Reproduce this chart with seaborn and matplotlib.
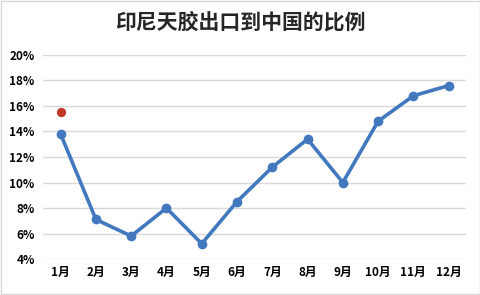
import matplotlib
matplotlib.use("Agg")
import matplotlib.pyplot as plt
import seaborn as sns
import pandas as pd
from matplotlib.ticker import PercentFormatter
from matplotlib.patches import Rectangle

months = ["1月", "2月", "3月", "4月", "5月", "6月", "7月", "8月", "9月", "10月", "11月", "12月"]
ratio = [0.138, 0.071, 0.058, 0.080, 0.052, 0.085, 0.112, 0.134, 0.100, 0.148, 0.168, 0.176]
extra_month = ["1月"]
extra_ratio = [0.155]
title = "印尼天胶出口到中国的比例"

sns.set_theme(style="white")
plt.rcParams['font.family'] = ['Noto Sans CJK SC', 'DejaVu Sans']

fig = plt.figure(figsize=(4.81, 2.95), dpi=100)
ax = fig.add_axes([0.0894, 0.122, 0.8800, 0.6916])

df = pd.DataFrame({"month": months, "ratio": ratio})
df["x"] = range(len(months))
sns.lineplot(data=df, x="x", y="ratio", ax=ax, color="#4178BE", linewidth=2.6,
             marker="o", markersize=7, markeredgewidth=0, zorder=3)
ex = pd.DataFrame({"x": [months.index(m) for m in extra_month], "ratio": extra_ratio})
sns.scatterplot(data=ex, x="x", y="ratio", ax=ax, color="#C0392B", s=45, linewidth=0, zorder=4)

ax.set_xlim(-0.5, len(months) - 0.5)
ax.set_ylim(0.04, 0.20)
ax.set_yticks([0.04 + 0.02 * i for i in range(9)])
ax.yaxis.set_major_formatter(PercentFormatter(1.0, decimals=0))
ax.set_xticks(range(len(months)))
ax.set_xticklabels(months)
ax.grid(axis="y", color="#D9D9D9", linewidth=1)
ax.set_axisbelow(True)
for s in ax.spines.values():
    s.set_visible(False)
ax.tick_params(axis="both", length=0, labelsize=8.5, colors="black")
ax.tick_params(axis="y", pad=6)
ax.tick_params(axis="x", pad=5)
for lbl in ax.get_xticklabels() + ax.get_yticklabels():
    lbl.set_fontweight("bold")
ax.set_xlabel("")
ax.set_ylabel("")

fig.text(0.5, 0.925, title, ha="center", va="center", fontsize=15, fontweight="bold")
fig.patches.append(Rectangle((0.002, 0.003), 0.995, 0.993, transform=fig.transFigure,
                             fill=False, edgecolor="#D9D9D9", linewidth=1))

fig.savefig("out.png", dpi=100)
